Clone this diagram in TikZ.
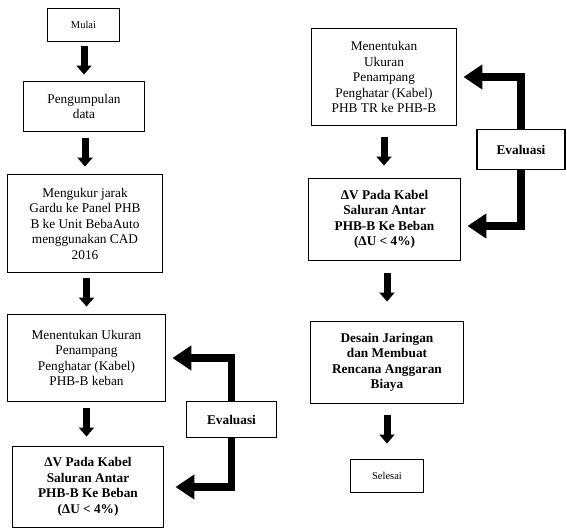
\documentclass[tikz,border=0pt]{standalone}
\usepackage{fontspec}
\setmainfont{Liberation Serif}
\usetikzlibrary{arrows.meta}
\begin{document}
\begin{tikzpicture}[x=1pt,y=-1pt,
  box/.style={draw, line width=1.9pt, rectangle, align=center, inner sep=0pt,
    font=\fontsize{13.3}{15.5}\selectfont},
  bbox/.style={box, font=\fontsize{13.3}{15.5}\selectfont\bfseries},
  smallbox/.style={box, font=\fontsize{10.5}{12}\selectfont},
  downarrow/.style={line width=7pt, -{Triangle[length=9pt,width=15pt]}},
  fbarrow/.style={line width=7.5pt, line join=miter, -{Triangle[length=19pt,width=24pt]}}
]
\useasboundingbox (0,0) rectangle (567,530);

% left column
\node[smallbox, minimum width=72pt, minimum height=33pt] (mulai) at (83.5,25) {Mulai};
\node[box, minimum width=121pt, minimum height=50pt] (peng) at (84,106.5) {Pengumpulan\\data};
\node[box, minimum width=155pt, minimum height=98pt] (ukur) at (85,223.5)
  {Mengukur jarak\\Gardu ke Panel PHB\\B ke Unit BebaAuto\\menggunakan CAD\\2016};
\node[box, minimum width=158pt, minimum height=87pt] (menL) at (86.5,358)
  {Menentukan Ukuran\\Penampang\\Penghatar (Kabel)\\PHB-B keban};
\node[bbox, minimum width=151pt, minimum height=81pt] (dvL) at (88,487)
  {ΔV Pada Kabel\\Saluran Antar\\PHB-B Ke Beban\\(ΔU < 4\%)};
\node[bbox, minimum width=90pt, minimum height=36pt] (evL) at (231.5,419.5) {Evaluasi};

% right column
\node[box, minimum width=145pt, minimum height=97pt] (menR) at (384,77)
  {Menentukan\\Ukuran\\Penampang\\Penghatar (Kabel)\\PHB TR ke PHB-B};
\node[bbox, minimum width=152pt, minimum height=82pt] (dvR) at (384.5,219.5)
  {ΔV Pada Kabel\\Saluran Antar\\PHB-B Ke Beban\\(ΔU < 4\%)};
\node[bbox, minimum width=88pt, minimum height=40pt] (evR) at (521,149.5) {Evaluasi};
\node[bbox, minimum width=153pt, minimum height=82pt] (des) at (387,362.5)
  {Desain Jaringan\\dan Membuat\\Rencana Anggaran\\Biaya};
\node[smallbox, minimum width=73pt, minimum height=33pt] (sel) at (387,476) {Selesai};

% down arrows
\draw[downarrow, shorten <=4pt, shorten >=6pt] (mulai.south -| peng.north) -- (peng.north);
\draw[downarrow, shorten <=6pt, shorten >=7pt] (peng.south -| ukur.north) -- (ukur.north);
\draw[downarrow, shorten <=5pt, shorten >=7pt] (ukur.south -| menL.north) -- (menL.north);
\draw[downarrow, shorten <=6pt, shorten >=9pt] (menL.south) -- (menL.south |- dvL.north);
\draw[downarrow, shorten <=11pt, shorten >=12pt] (menR.south) -- (menR.south |- dvR.north);
\draw[downarrow, shorten <=12pt, shorten >=19pt] (dvR.south -| des.north) -- (des.north);
\draw[downarrow, shorten <=11pt, shorten >=15pt] (des.south) -- (sel.north);

% feedback arrows
\draw[fbarrow, shorten >=6pt] (evL.north) |- (menL.east);
\draw[fbarrow, shorten >=11pt] (evL.south) |- (dvL.east);
\draw[fbarrow, shorten >=6pt] (evR.north) |- (menR.east);
\draw[fbarrow, shorten >=6pt] (evR.south) |- ([yshift=-6.5pt]dvR.east);
\end{tikzpicture}
\end{document}
